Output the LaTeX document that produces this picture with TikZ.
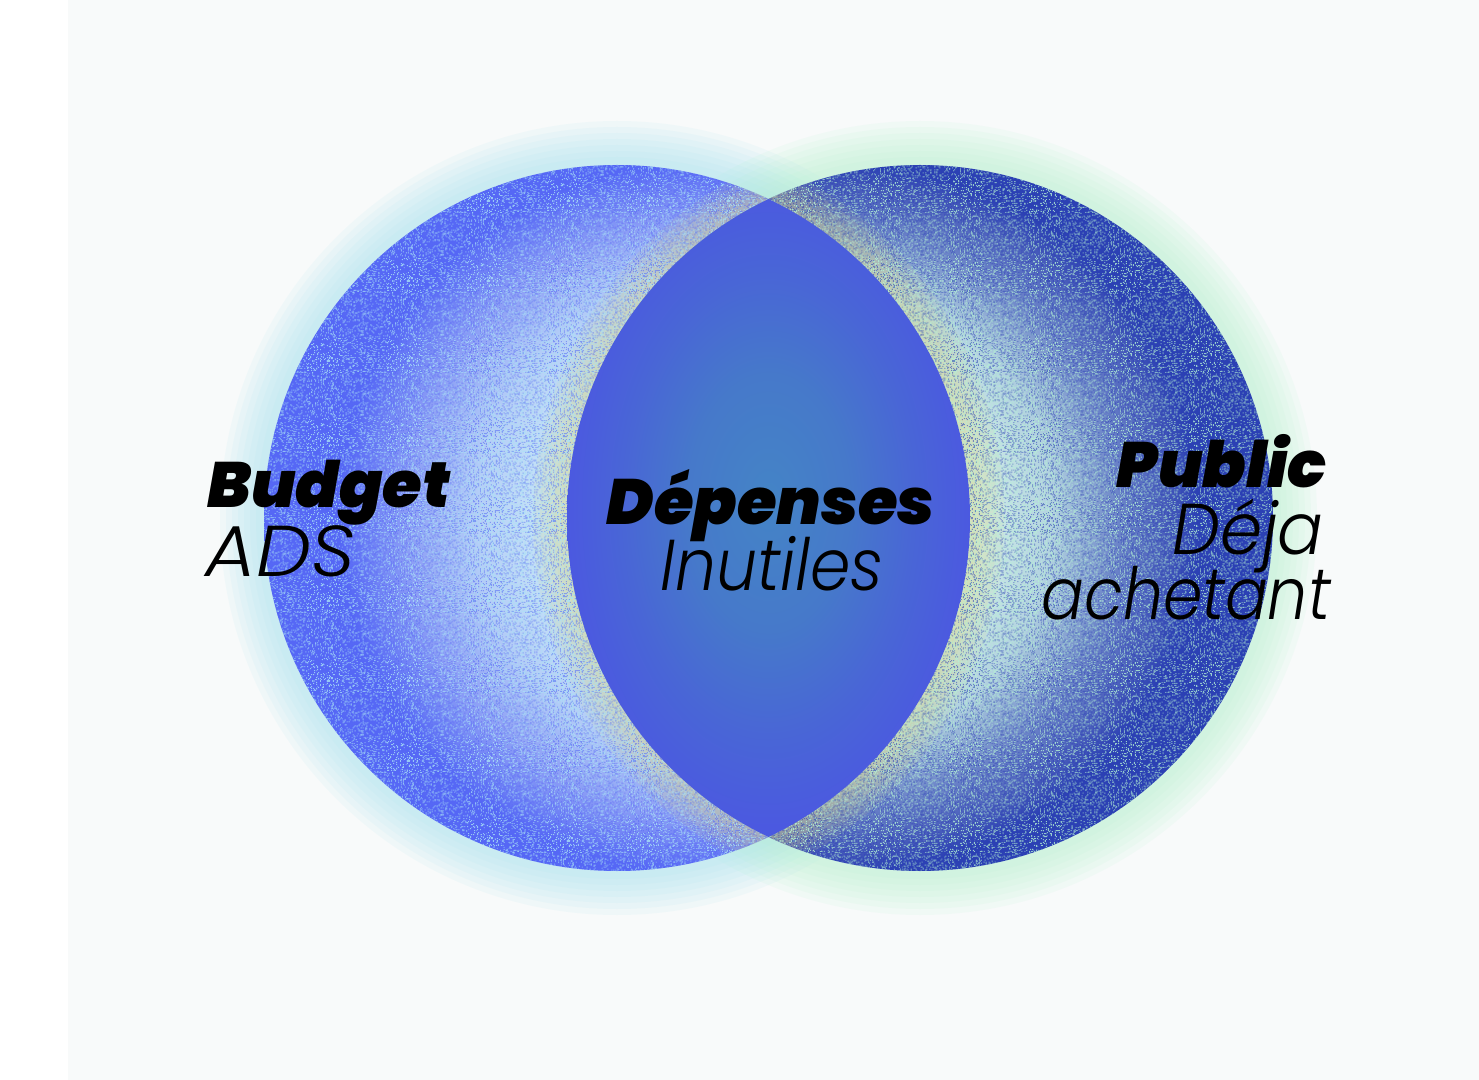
\documentclass[tikz,border=0pt]{standalone}
\usepackage{fontspec}
\usetikzlibrary{patterns}
\newfontfamily\heavyfont{Poppins Black Italic}
\newfontfamily\thinfont{Poppins Light Italic}
\definecolor{bgc}{HTML}{F8FAFA}
\definecolor{glowL}{HTML}{A8E4F0}
\definecolor{glowR}{HTML}{B8F2D0}
\definecolor{lensglow}{HTML}{D8D690}
\definecolor{lA}{HTML}{D4F1F5}
\definecolor{lB}{HTML}{D0EFF6}
\definecolor{lC}{HTML}{B4CEF7}
\definecolor{lD}{HTML}{8C9EF6}
\definecolor{lE}{HTML}{6B7DF5}
\definecolor{lF}{HTML}{5668F5}
\definecolor{rA}{HTML}{E0F8EE}
\definecolor{rB}{HTML}{DAF5EA}
\definecolor{rC}{HTML}{B2D2E0}
\definecolor{rD}{HTML}{6A82C8}
\definecolor{rE}{HTML}{4458BA}
\definecolor{rF}{HTML}{2C41B4}
\definecolor{mA}{HTML}{4484C6}
\definecolor{mB}{HTML}{4679CA}
\definecolor{mC}{HTML}{4966D6}
\definecolor{mD}{HTML}{4B59E0}
\definecolor{dotLlight}{HTML}{A8E2F6}
\definecolor{dotLblue}{HTML}{5566F5}
\definecolor{dotRlight}{HTML}{B4F2D4}
\definecolor{dotRblue}{HTML}{2A3FB5}
\pgfdeclareradialshading{leftshade}{\pgfpoint{10.7bp}{0bp}}{color(0bp)=(lA); color(11bp)=(lB); color(17bp)=(lC); color(21bp)=(lD); color(23.5bp)=(lE); color(25bp)=(lF); color(50bp)=(lF)}
\pgfdeclareradialshading{rightshade}{\pgfpoint{-10.7bp}{0bp}}{color(0bp)=(rA); color(11bp)=(rB); color(16.5bp)=(rC); color(20.5bp)=(rD); color(23.5bp)=(rE); color(25bp)=(rF); color(50bp)=(rF)}
\pgfdeclareradialshading{lensshade}{\pgfpoint{0bp}{1.5bp}}{color(0bp)=(mA); color(10bp)=(mB); color(18bp)=(mC); color(25bp)=(mD); color(50bp)=(mD)}
\pgfmathsetseed{4711}
\pgfdeclarepatternformonly{grainA}{\pgfpointorigin}{\pgfpoint{40pt}{40pt}}{\pgfpoint{40pt}{40pt}}{%
  \foreach \i in {1,...,1300}{%
    \pgfmathrandominteger{\gx}{0}{79}\pgfmathrandominteger{\gy}{0}{79}%
    \pgfpathrectangle{\pgfpoint{\gx*0.5pt}{\gy*0.5pt}}{\pgfpoint{0.5pt}{0.5pt}}%
    \pgfusepath{fill}%
  }%
}
\pgfdeclarepatternformonly{grainB}{\pgfpointorigin}{\pgfpoint{40pt}{40pt}}{\pgfpoint{40pt}{40pt}}{%
  \foreach \i in {1,...,1300}{%
    \pgfmathrandominteger{\gx}{0}{79}\pgfmathrandominteger{\gy}{0}{79}%
    \pgfpathrectangle{\pgfpoint{\gx*0.5pt}{\gy*0.5pt}}{\pgfpoint{0.5pt}{0.5pt}}%
    \pgfusepath{fill}%
  }%
}
\tikzset{
  heavy/.style={font=\heavyfont\fontsize{32}{36}\selectfont, inner sep=0pt, text=black},
  light/.style={font=\thinfont\fontsize{36}{40}\selectfont, inner sep=0pt, text=black},
}
\begin{document}
\begin{tikzpicture}[x=0.5pt,y=-0.5pt]
\useasboundingbox (0,0) rectangle (1479,1080);
\fill[white] (0,0) rectangle (1479,1080);
\fill[bgc] (68,0) rectangle (1479,1080);
\coordinate (cL) at (617,518);
\coordinate (cR) at (920,518);
% outer glows
\foreach \w in {44pt,38pt,32pt,26pt,20pt,14pt,8pt}{
  \draw[glowL, line width=\w, opacity=0.11] (cL) circle[radius=176.5pt];
  \draw[glowR, line width=\w, opacity=0.11] (cR) circle[radius=176.5pt];
}
% circles
\shade[shading=leftshade] (cL) circle[radius=176.5pt];
\shade[shading=rightshade] (cR) circle[radius=176.5pt];
% yellow glow around the lens
\begin{scope}
  \clip (cL) circle[radius=176.5pt];
  \foreach \w in {34pt,27pt,20pt,13pt,6pt}
    \draw[lensglow, line width=\w, opacity=0.13] (cR) circle[radius=176.5pt];
\end{scope}
\begin{scope}
  \clip (cR) circle[radius=176.5pt];
  \foreach \w in {34pt,27pt,20pt,13pt,6pt}
    \draw[lensglow, line width=\w, opacity=0.13] (cL) circle[radius=176.5pt];
\end{scope}
% grain
\fill[pattern=grainA, pattern color=dotLlight, opacity=0.8] (cL) circle[radius=176.5pt];
\fill[pattern=grainB, pattern color=dotLblue, opacity=0.55] (cL) circle[radius=176.5pt];
\fill[pattern=grainB, pattern color=dotRlight, opacity=0.8] (cR) circle[radius=176.5pt];
\fill[pattern=grainA, pattern color=dotRblue, opacity=0.55] (cR) circle[radius=176.5pt];
% lens
\begin{scope}
  \clip (cL) circle[radius=176.5pt];
  \clip (cR) circle[radius=176.5pt];
  \shade[shading=lensshade] (567,199) rectangle (970,837);
\end{scope}
% labels
\node[heavy, anchor=base west] (budget) at (207,508) {Budget};
\node[light, anchor=base west, xscale=1.08] (ads) at (205,577) {ADS};
\node[heavy, anchor=base] (dep) at (771,525) {Dépenses};
\node[light, anchor=base, xscale=0.9] (inu) at (772,590) {Inutiles};
\node[heavy, anchor=base east] (pub) at (1327,488) {Public};
\node[light, anchor=base east, xscale=0.94] (deja) at (1324,555) {Déja};
\node[light, anchor=base east, xscale=0.88] (ach) at (1331,620) {achetant};
\end{tikzpicture}
\end{document}
